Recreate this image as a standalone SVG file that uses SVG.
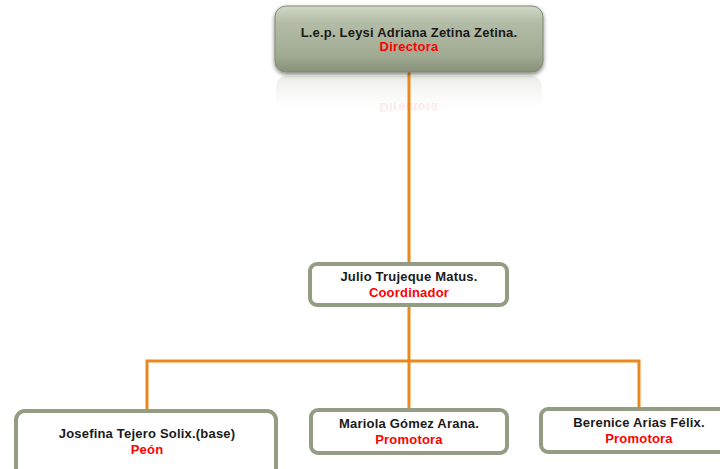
<svg xmlns="http://www.w3.org/2000/svg" width="720" height="469" viewBox="0 0 720 469">
<defs>
<linearGradient id="g" x1="0" y1="0" x2="0" y2="1">
<stop offset="0" stop-color="#d2d8c8"/>
<stop offset="0.25" stop-color="#b3bca6"/>
<stop offset="0.75" stop-color="#a1ab92"/>
<stop offset="1" stop-color="#87917a"/>
</linearGradient>
<linearGradient id="rg" x1="0" y1="0" x2="0" y2="1">
<stop offset="0" stop-color="#e4e7df" stop-opacity="0.8"/>
<stop offset="1" stop-color="#ffffff" stop-opacity="0"/>
</linearGradient>
<filter id="sh" x="-10%" y="-20%" width="120%" height="150%">
<feGaussianBlur in="SourceAlpha" stdDeviation="2"/>
<feOffset dx="0" dy="2"/>
<feComponentTransfer><feFuncA type="linear" slope="0.5"/></feComponentTransfer>
<feMerge><feMergeNode/><feMergeNode in="SourceGraphic"/></feMerge>
</filter>
</defs>
<style>
.box{fill:#ffffff;stroke:#939d84;stroke-width:4}
.n{font-family:"Liberation Sans",Arial,sans-serif;font-weight:bold;font-size:13px;letter-spacing:0.2px;fill:#1a1a1a;text-anchor:middle}
.r{font-family:"Liberation Sans",Arial,sans-serif;font-weight:bold;font-size:13px;letter-spacing:0.2px;fill:#ff0000;text-anchor:middle}
.c{fill:none;stroke:#e8891e;stroke-width:3}
</style>
<g id="reflection">
<rect x="276" y="76" width="266" height="40" rx="10" fill="url(#rg)"/>
<text x="409" y="112" class="r" opacity="0.08" transform="translate(0,215) scale(1,-1)">Directora</text>
</g>
<g id="connectors">
<path class="c" d="M409,72 V263"/>
<path class="c" d="M409,306 V409"/>
<path class="c" d="M147,410 V361 H639 V408"/>
</g>
<g id="director">
<rect x="275" y="6" width="268" height="66" rx="11" fill="url(#g)" stroke="#7f8a70" stroke-width="1" filter="url(#sh)"/>
<text x="409" y="37" class="n">L.e.p. Leysi Adriana Zetina Zetina.</text>
<text x="409" y="51" class="r">Directora</text>
</g>
<g id="coordinador">
<rect x="310" y="264" width="197" height="41" rx="7" class="box"/>
<text x="409" y="281" class="n">Julio Trujeque Matus.</text>
<text x="409" y="297" class="r">Coordinador</text>
</g>
<g id="josefina">
<rect x="16" y="411" width="260" height="70" rx="9" class="box"/>
<text x="147" y="438" class="n">Josefina Tejero Solix.(base)</text>
<text x="147" y="454" class="r">Peón</text>
</g>
<g id="mariola">
<rect x="311" y="410" width="196" height="43" rx="7" class="box"/>
<text x="409" y="428" class="n">Mariola Gómez Arana.</text>
<text x="409" y="444" class="r">Promotora</text>
</g>
<g id="berenice">
<rect x="541" y="409" width="200" height="43" rx="7" class="box"/>
<text x="639" y="427" class="n">Berenice Arias Félix.</text>
<text x="639" y="443" class="r">Promotora</text>
</g>
</svg>
